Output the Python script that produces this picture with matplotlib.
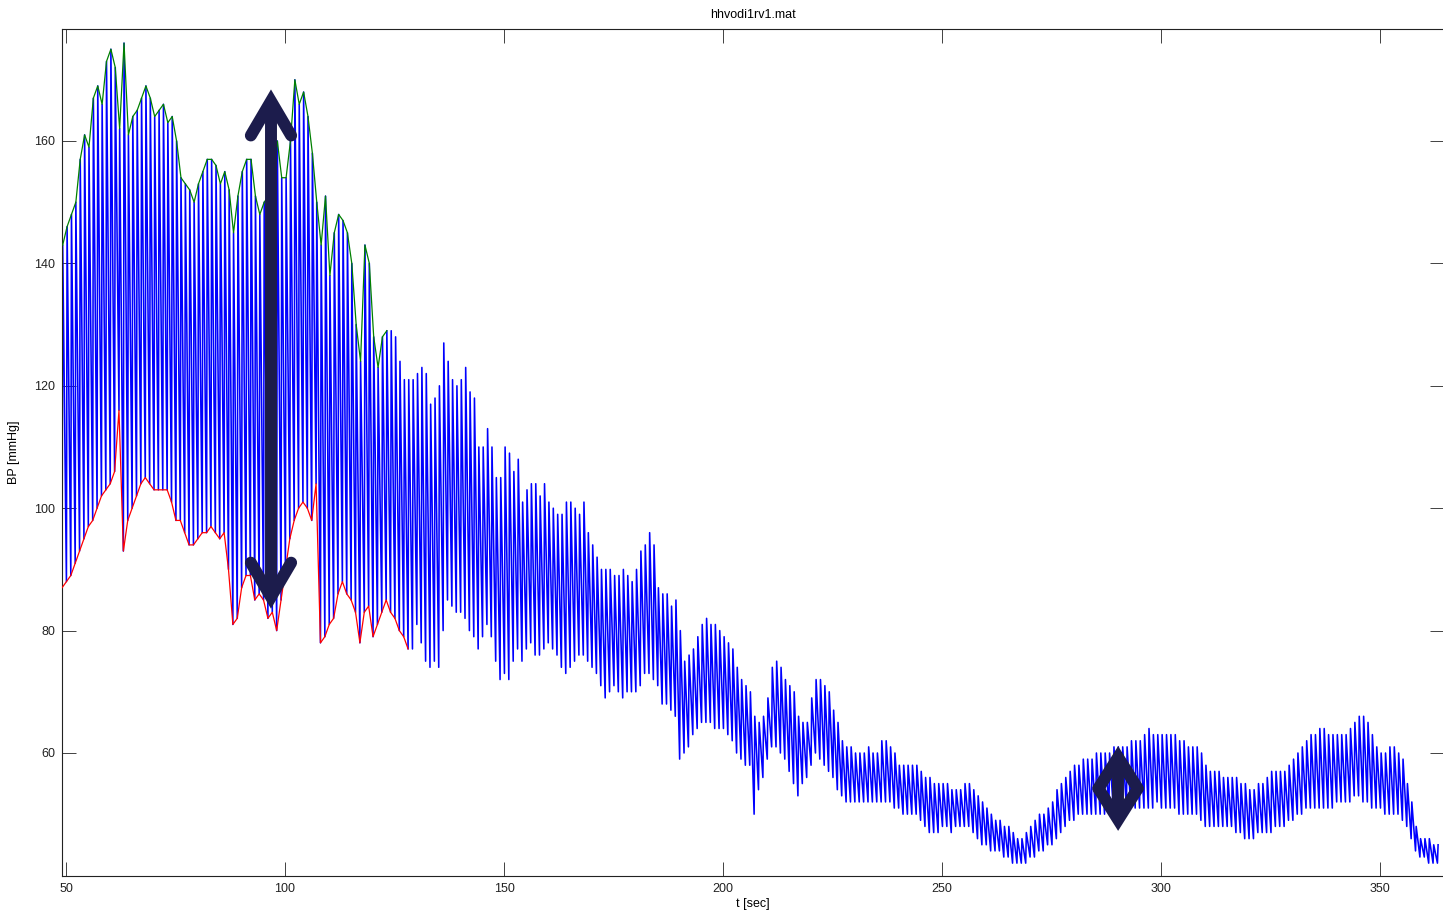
import numpy as np
from matplotlib import pyplot as plt

plt.rcParams['font.family'] = ['Liberation Sans', 'DejaVu Sans']

title = 'hhvodi1rv1.mat'
first_beat = 49.1      # sec
beat_len = 1.0         # sec between beats
upstroke = 0.15        # sec from diastole to systole

# systolic peak of every beat [mmHg]
systolic = [
    143, 146, 148, 150, 157, 161, 159, 167, 169, 166,
    173, 175, 172, 162, 176, 161, 164, 165, 167, 169,
    167, 164, 165, 166, 163, 164, 160, 154, 153, 152,
    150, 153, 155, 157, 157, 156, 153, 155, 152, 145,
    151, 155, 157, 157, 151, 148, 150, 151, 155, 160,
    154, 154, 160, 170, 166, 168, 164, 158, 150, 143,
    151, 138, 145, 148, 147, 145, 140, 130, 124, 143,
    140, 128, 123, 128, 129, 129, 128, 124, 121, 121,
    121, 122, 123, 122, 117, 118, 120, 127, 124, 121,
    120, 121, 123, 119, 118, 110, 110, 113, 110, 105,
    105, 110, 109, 106, 108, 101, 103, 104, 104, 102,
    104, 101, 100, 99, 99, 101, 101, 100, 99, 101,
    96, 94, 92, 90, 90, 90, 89, 89, 90, 89,
    88, 90, 93, 94, 96, 94, 87, 86, 86, 84,
    85, 80, 75, 76, 77, 79, 81, 82, 81, 81,
    80, 79, 78, 77, 74, 72, 71, 70, 66, 65,
    66, 69, 74, 75, 74, 72, 71, 70, 66, 65,
    65, 69, 72, 72, 71, 70, 67, 65, 62, 61,
    61, 60, 60, 60, 61, 60, 60, 62, 62, 61,
    60, 58, 58, 58, 58, 58, 57, 56, 56, 55,
    55, 55, 55, 54, 54, 54, 55, 55, 54, 53,
    52, 51, 50, 49, 49, 48, 48, 47, 46, 46,
    47, 48, 49, 50, 50, 51, 52, 54, 55, 56,
    57, 58, 58, 59, 59, 59, 60, 60, 60, 60,
    61, 61, 61, 61, 62, 62, 62, 63, 64, 63,
    63, 63, 63, 63, 63, 62, 62, 61, 61, 61,
    60, 58, 57, 57, 57, 56, 56, 56, 56, 55,
    55, 54, 54, 55, 55, 56, 57, 57, 57, 57,
    58, 59, 60, 61, 62, 63, 63, 64, 64, 63,
    63, 63, 63, 63, 64, 65, 66, 66, 65, 63,
    61, 60, 60, 61, 61, 60, 59, 55, 52, 48,
    46, 46, 46, 45, 45,
]

# diastolic trough of every beat [mmHg]
diastolic = [
    87, 88, 89, 91, 93, 95, 97, 98, 100, 102,
    103, 104, 106, 116, 93, 98, 100, 102, 104, 105,
    104, 103, 103, 103, 103, 101, 98, 98, 96, 94,
    94, 95, 96, 96, 97, 96, 95, 96, 90, 81,
    82, 87, 89, 89, 85, 86, 85, 82, 83, 80,
    85, 90, 95, 98, 100, 101, 100, 98, 104, 78,
    79, 81, 82, 86, 88, 86, 85, 83, 78, 83,
    84, 79, 81, 83, 85, 83, 82, 80, 79, 77,
    77, 81, 78, 75, 74, 75, 74, 80, 85, 84,
    83, 83, 82, 80, 79, 77, 79, 81, 79, 75,
    72, 73, 72, 75, 77, 75, 77, 78, 76, 76,
    77, 78, 77, 76, 74, 73, 74, 75, 76, 76,
    75, 74, 73, 71, 69, 70, 71, 70, 69, 70,
    70, 70, 71, 73, 73, 72, 71, 68, 68, 67,
    66, 59, 60, 61, 63, 64, 65, 65, 65, 64,
    64, 64, 63, 62, 60, 59, 58, 58, 50, 54,
    56, 59, 61, 61, 60, 59, 57, 55, 53, 55,
    56, 58, 60, 59, 58, 57, 56, 54, 53, 52,
    52, 52, 52, 52, 52, 52, 52, 52, 52, 52,
    51, 51, 50, 50, 50, 50, 49, 48, 47, 47,
    47, 48, 48, 47, 48, 48, 48, 48, 47, 46,
    45, 45, 44, 44, 44, 43, 43, 42, 42, 42,
    42, 43, 43, 44, 44, 45, 45, 46, 47, 48,
    49, 49, 50, 50, 50, 50, 50, 50, 50, 51,
    51, 51, 51, 51, 51, 51, 51, 51, 51, 51,
    52, 51, 51, 51, 51, 50, 50, 50, 50, 50,
    49, 48, 48, 48, 48, 48, 48, 48, 47, 47,
    46, 46, 46, 47, 47, 47, 47, 48, 48, 48,
    49, 49, 50, 50, 51, 51, 51, 51, 51, 51,
    51, 52, 52, 52, 52, 53, 53, 52, 52, 51,
    51, 51, 50, 50, 50, 50, 49, 48, 46, 44,
    43, 43, 42, 42, 42,
]

# envelope detection only ran on the first part of the record
sys_env_end = 123.6
dia_env_end = 128.9

xlim = (49.09, 364.6)
ylim = (39.9, 178.3)


def build_waveform(t_beats, sys_vals, dia_vals):
    t = np.empty(2 * len(t_beats))
    bp = np.empty(2 * len(t_beats))
    t[0::2] = t_beats
    t[1::2] = t_beats + upstroke
    bp[0::2] = dia_vals
    bp[1::2] = sys_vals
    return t, bp


def draw_arrow(ax, x, y_top, y_bot, head_dx, head_dy, color='#1c1c4c', lw=8.6):
    ax.plot([x, x], [y_top, y_bot], color=color, lw=lw, solid_capstyle='butt', zorder=5)
    ax.plot([x - head_dx, x, x + head_dx], [y_top - head_dy, y_top, y_top - head_dy],
            color=color, lw=lw, solid_capstyle='round', solid_joinstyle='miter', zorder=5)
    ax.plot([x - head_dx, x, x + head_dx], [y_bot + head_dy, y_bot, y_bot + head_dy],
            color=color, lw=lw, solid_capstyle='round', solid_joinstyle='miter', zorder=5)


def plot_bp():
    sys_vals = np.array(systolic, dtype=float)
    dia_vals = np.array(diastolic, dtype=float)
    t_beats = first_beat + beat_len * np.arange(len(sys_vals))

    t, bp = build_waveform(t_beats, sys_vals, dia_vals)

    fig = plt.figure(figsize=(14.43, 9.18), dpi=100)
    ax = fig.add_axes([62 / 1443, 1 - 876 / 918, (1444 - 62) / 1443, (876 - 29) / 918])

    ax.plot(t, bp, color='#0000ff', lw=1.15, zorder=2)

    up = (t_beats + upstroke) <= sys_env_end
    ax.plot(t_beats[up] + upstroke, sys_vals[up], color='#008000', lw=0.9, zorder=3)
    low = t_beats <= dia_env_end
    ax.plot(t_beats[low], dia_vals[low], color='#ff0000', lw=0.9, zorder=3)

    draw_arrow(ax, 96.8, 166.5, 85.5, 4.6, 5.6)
    draw_arrow(ax, 290.2, 59.3, 49.1, 4.5, 5.1)

    ax.set_xlim(*xlim)
    ax.set_ylim(*ylim)
    ax.set_xticks(range(50, 351, 50))
    ax.set_yticks(range(60, 161, 20))
    ax.tick_params(direction='in', length=10, width=0.6, top=True, right=True,
                   labelsize=9, colors='#222222', pad=5)
    for s in ax.spines.values():
        s.set_linewidth(0.8)
        s.set_color('#222222')

    ax.set_title(title, fontsize=9, pad=8)
    ax.set_xlabel('t [sec]', fontsize=9, labelpad=2)
    ax.set_ylabel('BP [mmHg]', fontsize=9, labelpad=10)

    plt.savefig('out.png', dpi=100)


if __name__ == '__main__':
    plot_bp()
